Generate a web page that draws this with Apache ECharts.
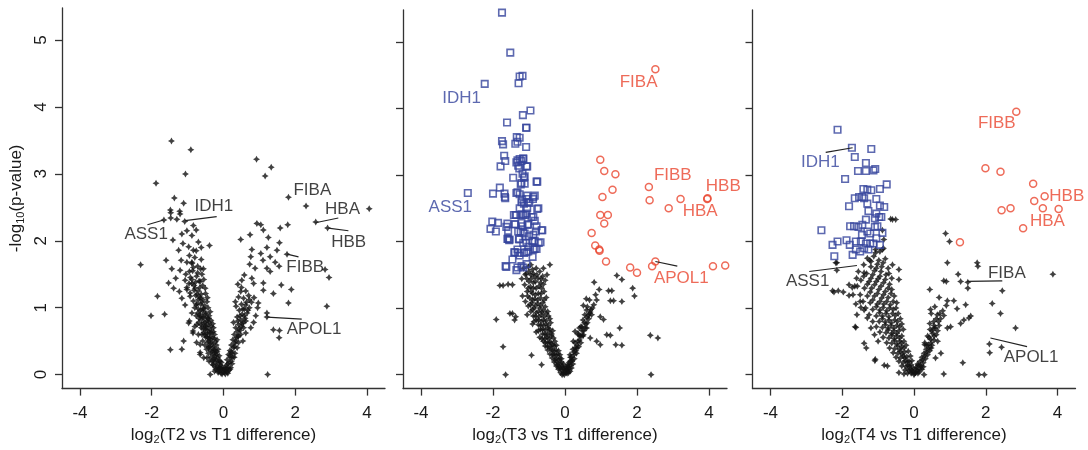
<!DOCTYPE html>
<html><head><meta charset="utf-8">
<script src="https://cdn.jsdelivr.net/npm/echarts@6/dist/echarts.min.js"></script>
<style>html,body{margin:0;padding:0;background:#fff}#c{width:1088px;height:450px}</style>
</head><body><div id="c"></div>
<script>
const xTicks = [-4, -2, 0, 2, 4];
const yTicks = [0, 1, 2, 3, 4, 5];
const xTitles = ['T2 vs T1 difference', 'T3 vs T1 difference', 'T4 vs T1 difference'];

// Panel 1 (T2 vs T1): all proteins black
const p1Black = [
[-1.45,3.49],[-0.91,3.36],[-1.06,3.0],[-1.88,2.86],[-1.37,2.64],[-1.11,2.56],[-1.48,2.46],[-1.22,2.44],[-1.47,2.42],[-1.21,2.40],[-1.47,2.34],[-1.30,2.32],[-1.66,2.31],[-1.08,2.29],[-0.84,2.23],[-0.76,2.16],[-1.02,2.15],[-1.16,2.10],[-0.88,2.08],[-1.41,2.01],[-0.70,1.98],[-0.39,1.93],[-1.13,1.96],[-0.97,1.91],[-1.25,1.86],[-0.84,1.86],[-2.31,1.64],[-1.60,1.71],[-1.18,1.71],[-1.02,1.68],[-0.88,1.66],[-0.62,1.72],[-1.44,1.58],[-1.21,1.56],[-0.95,1.54],[-0.56,1.58],[-1.33,1.44],[-1.53,1.37],[-1.07,1.41],[-0.88,1.36],[-0.65,1.39],[-1.39,1.29],[-1.23,1.24],[-1.02,1.27],[-0.79,1.29],[-0.51,1.29],[-1.84,1.17],[-1.16,1.14],[-0.93,1.17],[-0.65,1.14],[-0.46,1.09],[-1.07,1.04],[-0.76,1.04],[-0.56,0.99],[-0.37,0.94],[-2.02,0.88],[-1.64,0.90],[-0.88,0.92],[-0.65,0.87],[-0.42,0.84],[-0.97,0.77],[-0.74,0.75],[-0.51,0.72],[-0.28,0.70],[-0.85,0.62],[-0.60,0.60],[-0.37,0.57],[-0.18,0.52],[-1.11,0.50],[-1.48,0.37],[-1.16,0.38],[-0.65,0.45],[-0.42,0.40],[-0.65,0.33],[-0.46,0.25],[-0.23,0.33],[-0.09,0.20],[-0.30,0.15],[-0.37,0.0],
[-0.95,1.78],[-0.80,1.75],[-0.72,1.62],[-0.86,1.55],[-0.60,1.50],[-0.75,1.47],[-0.92,1.45],[-0.68,1.40],[-0.82,1.33],[-0.58,1.33],[-0.70,1.25],[-0.93,1.22],[-0.62,1.20],[-0.50,1.21],[-0.77,1.18],[-0.84,1.10],[-0.70,1.12],[-0.57,1.12],[-0.45,1.15],[-0.63,1.05],[-0.52,1.03],[-0.80,1.00],[-0.70,0.98],[-0.43,1.00],[-0.58,0.95],[-0.49,0.92],[-0.66,0.90],[-0.76,0.88],[-0.55,0.86],[-0.40,0.88],[-0.61,0.82],[-0.47,0.80],[-0.35,0.81],[-0.69,0.78],[-0.56,0.76],[-0.42,0.74],[-0.30,0.76],[-0.80,0.72],[-0.62,0.70],[-0.50,0.68],[-0.38,0.67],[-0.55,0.63],[-0.45,0.61],[-0.33,0.63],[-0.70,0.60],[-0.25,0.60],[-0.50,0.56],[-0.40,0.54],[-0.30,0.55],[-0.58,0.50],[-0.44,0.48],[-0.35,0.47],[-0.22,0.49],[-0.52,0.44],[-0.40,0.42],[-0.28,0.41],[-0.47,0.38],[-0.35,0.36],[-0.24,0.36],[-0.15,0.38],[-0.42,0.32],[-0.30,0.30],[-0.20,0.30],[-0.36,0.26],[-0.26,0.24],[-0.16,0.25],[-0.32,0.20],[-0.22,0.18],[-0.12,0.20],[-0.28,0.14],[-0.18,0.12],[-0.08,0.14],[-0.22,0.08],[-0.12,0.07],[-0.05,0.08],[-0.15,0.03],[-0.07,0.02],[-0.02,0.04],[-0.10,0.11],[-0.25,0.05],[-0.65,0.30],[-0.55,0.25],[-0.75,0.48],[-0.85,0.65],[-0.95,0.80],[-0.66,1.30],[-0.88,1.68],[-0.55,1.42],[-1.02,1.30],[-0.40,0.20],
[-0.82,1.26],[-0.74,1.20],[-0.66,1.16],[-0.60,1.08],[-0.74,1.06],[-0.55,0.98],[-0.64,0.96],[-0.72,0.92],[-0.50,0.90],[-0.58,0.86],[-0.45,0.84],[-0.68,0.84],[-0.52,0.78],[-0.62,0.74],[-0.40,0.78],[-0.48,0.72],[-0.56,0.68],[-0.34,0.72],[-0.44,0.66],[-0.52,0.60],[-0.38,0.62],[-0.28,0.64],[-0.46,0.56],[-0.36,0.52],[-0.26,0.54],[-0.42,0.50],[-0.30,0.46],[-0.20,0.44],[-0.38,0.42],[-0.26,0.38],[-0.32,0.34],[-0.18,0.34],[-0.24,0.28],[-0.12,0.28],[-0.20,0.22],[-0.28,0.22],[-0.14,0.16],[-0.06,0.18],[-0.20,0.10],[-0.10,0.09],[-0.03,0.11],[-0.14,0.05],[-0.04,0.01],[-0.88,1.42],[-0.78,1.38],[-0.96,1.36],[-0.72,1.52],[-0.84,1.60],[-1.05,1.50],[-0.64,1.58],[-0.76,1.85],[-0.62,1.90],
[0.92,3.22],[1.33,3.10],[1.16,2.97],[1.81,2.65],[2.30,2.52],[4.06,2.48],[2.57,2.28],[2.90,2.19],[1.79,2.24],[1.58,2.19],[0.93,2.26],[1.04,2.24],[1.11,2.16],[1.25,2.05],[1.56,1.97],[0.74,2.09],[0.48,2.02],[0.79,1.87],[1.04,1.81],[1.21,1.90],[1.49,1.86],[0.76,1.76],[1.10,1.71],[1.30,1.76],[1.44,1.68],[0.73,1.65],[0.88,1.59],[1.21,1.59],[1.30,1.54],[1.55,1.62],[1.77,1.80],[2.83,1.57],[2.94,1.45],[0.58,1.49],[0.51,1.41],[0.79,1.44],[0.84,1.36],[1.11,1.37],[1.61,1.34],[1.89,1.27],[1.39,1.21],[1.11,1.26],[0.48,1.24],[1.81,1.07],[2.88,1.02],[0.33,1.09],[0.97,1.07],[1.21,0.92],[1.56,0.66],[1.39,0.67],[1.55,0.55],[1.21,0.86],[1.23,0.0],
[0.02,0.03],[0.06,0.06],[0.10,0.04],[0.04,0.10],[0.08,0.14],[0.13,0.10],[0.16,0.18],[0.10,0.22],[0.20,0.25],[0.14,0.30],[0.24,0.32],[0.18,0.36],[0.28,0.40],[0.22,0.44],[0.32,0.47],[0.26,0.52],[0.36,0.55],[0.30,0.60],[0.42,0.58],[0.38,0.64],[0.46,0.66],[0.34,0.70],[0.50,0.72],[0.42,0.75],[0.55,0.78],[0.28,0.78],[0.48,0.82],[0.60,0.84],[0.38,0.86],[0.52,0.90],[0.66,0.92],[0.44,0.96],[0.58,0.98],[0.72,1.00],[0.35,1.02],[0.50,1.05],[0.64,1.08],[0.78,1.08],[0.56,1.14],[0.42,1.16],[0.70,1.18],[0.84,0.78],[0.90,0.88],[0.76,0.70],[0.62,0.62],[0.54,0.50],[0.18,0.08],[0.24,0.16],[0.30,0.26],[0.85,1.15],[0.95,1.00],[0.62,1.25],[0.50,1.30],[0.40,1.35],
[0.01,0.07],[0.05,0.01],[0.12,0.02],[0.08,0.09],[0.15,0.06],[0.20,0.10],[0.12,0.16],[0.22,0.20],[0.18,0.28],[0.26,0.26],[0.32,0.32],[0.22,0.34],[0.30,0.42],[0.38,0.40],[0.34,0.50],[0.42,0.48],[0.40,0.56],[0.48,0.60],[0.44,0.68],[0.56,0.70],[0.52,0.76],[0.40,0.80],[0.62,0.80],[0.58,0.88],[0.46,0.88],[0.68,0.96],[0.54,0.98],[0.62,1.04],[0.72,1.12]
];

// Panel 2 (T3 vs T1)
const p2Black = [
[-0.42,1.65],[-1.58,1.36],[-1.46,1.35],[-1.91,0.83],[-1.46,0.92],[-1.40,0.82],[-1.53,0.92],[-1.37,0.87],[-1.72,0.42],[-0.93,0.29],[-1.65,0.0],[-0.65,0.15],[-1.81,1.34],[-1.72,1.34],
[-1.15,1.60],[-1.02,1.62],[-0.90,1.58],[-0.80,1.60],[-0.70,1.55],[-1.08,1.52],[-0.95,1.50],[-0.85,1.47],[-0.75,1.45],[-0.62,1.48],[-1.20,1.44],[-1.00,1.40],[-0.88,1.38],[-0.68,1.38],[-0.55,1.42],
[-1.12,1.35],[-0.96,1.32],[-0.80,1.30],[-0.65,1.30],[-1.05,1.25],[-0.90,1.22],[-0.74,1.22],[-0.58,1.25],[-1.18,1.18],[-0.98,1.15],[-0.84,1.14],[-0.68,1.15],[-0.52,1.16],[-1.10,1.10],[-0.92,1.08],[-0.76,1.07],[-0.62,1.08],
[-1.02,1.03],[-0.86,1.00],[-0.70,1.00],[-0.55,1.02],[-0.95,0.95],[-0.80,0.93],[-0.64,0.94],[-0.48,0.95],[-1.05,0.90],[-0.88,0.88],[-0.72,0.87],[-0.58,0.87],[-0.80,0.82],[-0.66,0.80],[-0.52,0.81],[-0.42,0.84],
[-0.90,0.76],[-0.74,0.75],[-0.60,0.74],[-0.47,0.74],[-0.68,0.68],[-0.55,0.67],[-0.42,0.68],[-0.80,0.64],[-0.62,0.61],[-0.50,0.60],[-0.37,0.61],[-0.70,0.56],[-0.56,0.54],[-0.44,0.54],[-0.32,0.55],[-0.60,0.50],[-0.48,0.48],[-0.38,0.47],
[-0.55,0.43],[-0.42,0.42],[-0.30,0.43],[-0.48,0.37],[-0.36,0.36],[-0.25,0.37],[-0.42,0.31],[-0.30,0.30],[-0.20,0.31],[-0.36,0.25],[-0.25,0.24],[-0.15,0.25],[-0.30,0.19],[-0.20,0.18],[-0.10,0.19],
[-0.24,0.13],[-0.15,0.12],[-0.07,0.13],[-0.18,0.08],[-0.10,0.07],[-0.03,0.08],[-0.12,0.03],[-0.05,0.02],[0.0,0.04],[-0.08,0.0],
[-1.00,1.55],[-0.88,1.52],[-0.78,1.50],[-0.66,1.44],[-1.06,1.44],[-0.94,1.44],[-0.82,1.40],[-0.72,1.33],[-0.88,1.30],[-1.02,1.30],[-0.60,1.36],[-0.94,1.25],[-0.82,1.20],[-0.66,1.22],[-1.04,1.18],[-0.76,1.12],[-0.90,1.12],[-0.58,1.12],[-0.96,1.05],[-0.82,1.04],[-0.68,1.04],[-0.60,0.97],[-0.74,0.95],[-0.90,0.98],[-0.52,0.92],[-0.66,0.90],[-0.82,0.88],[-0.46,0.88],[-0.60,0.82],[-0.74,0.82],[-0.86,0.80],[-0.54,0.76],[-0.68,0.74],[-0.40,0.78],[-0.48,0.70],[-0.62,0.68],[-0.74,0.66],[-0.34,0.66],[-0.44,0.64],[-0.56,0.61],[-0.38,0.58],[-0.50,0.56],[-0.64,0.54],[-0.28,0.50],[-0.42,0.49],[-0.54,0.48],[-0.34,0.45],[-0.48,0.42],[-0.24,0.44],[-0.38,0.39],[-0.30,0.35],[-0.18,0.36],[-0.34,0.30],[-0.24,0.29],[-0.14,0.30],[-0.28,0.22],[-0.18,0.22],[-0.10,0.24],[-0.22,0.15],[-0.12,0.16],[-0.04,0.16],[-0.16,0.10],[-0.06,0.10],[0.02,0.11],[-0.02,0.0],[-1.10,1.50],[-0.50,1.50],[-0.60,1.60],[-0.95,1.65],
[1.44,1.49],[1.58,1.43],[0.81,1.39],[1.88,1.30],[1.93,1.18],[1.21,1.26],[1.30,1.26],[1.26,1.11],[1.35,1.11],[1.58,1.10],[0.59,1.14],[0.88,1.12],[0.51,1.04],[0.60,0.97],[0.70,0.94],[0.65,0.89],[0.74,0.90],[0.98,0.87],[1.07,0.83],[0.40,0.70],[0.47,0.72],[0.60,0.70],[0.28,0.65],[0.37,0.60],[0.51,0.60],[0.70,0.55],[1.16,0.60],[1.26,0.59],[1.52,0.70],[0.88,0.50],[0.98,0.45],[1.41,0.45],[1.58,0.44],[0.23,0.50],[0.33,0.40],[2.37,0.59],[2.58,0.55],[2.39,0.0],[0.14,0.30],[0.19,0.20],[0.09,0.15],[0.05,0.08],
[0.03,0.03],[0.08,0.05],[0.12,0.09],[0.06,0.12],[0.16,0.14],[0.11,0.18],[0.20,0.22],[0.15,0.26],[0.25,0.30],[0.30,0.36],[0.22,0.38],[0.34,0.44],[0.28,0.48],[0.40,0.52],[0.45,0.58],[0.36,0.62],[0.52,0.66],[0.44,0.72],[0.58,0.76],[0.50,0.82],[0.66,0.84],[0.55,0.90],[0.72,0.98],[0.62,1.02],[0.80,1.05],[0.68,1.12],[0.85,1.20],[0.95,1.28],
[0.06,0.02],[0.04,0.07],[0.10,0.03],[0.14,0.05],[0.10,0.12],[0.18,0.10],[0.14,0.20],[0.22,0.16],[0.18,0.26],[0.26,0.24],[0.24,0.34],[0.32,0.32],[0.28,0.40],[0.38,0.42],[0.36,0.50],[0.44,0.48],[0.42,0.58],[0.50,0.58],[0.48,0.66],[0.56,0.70],[0.62,0.78],[0.54,0.78],[0.60,0.86],[0.68,0.92],[0.76,1.00]
];
const p2Down = [
[-1.75,5.44],[-1.52,4.84],[-1.18,4.49],[-1.26,4.48],[-1.29,4.38],[-2.23,4.37],[-0.96,3.97],[-1.17,3.90],[-1.61,3.79],[-1.08,3.71],[-1.07,3.71],[-1.75,3.51],[-1.72,3.46],[-1.34,3.57],[-1.26,3.56],[-1.32,3.50],[-1.38,3.47],[-1.08,3.42],[-1.69,3.29],[-1.16,3.24],[-1.21,3.21],[-1.35,3.19],[-1.66,3.21],[-1.79,3.13],[-1.05,3.13],[-1.27,3.10],[-1.18,3.02],[-1.44,2.96],[-1.14,2.96],[-0.77,2.90],[-1.21,2.88],[-1.81,2.81],[-2.70,2.73],[-2.00,2.72],[-1.35,2.73],[-1.67,2.67],[-0.88,2.67],[-0.84,2.69],[-1.19,2.63],[-1.07,2.64],[-0.99,2.58],[-0.74,2.50],[-1.26,2.50],[-1.05,2.50],[-1.42,2.40],[-1.37,2.40],[-1.16,2.40],[-1.07,2.42],[-0.88,2.37],[-2.02,2.30],[-1.86,2.28],[-1.60,2.27],[-1.38,2.26],[-1.18,2.23],[-1.02,2.26],[-0.79,2.23],[-0.63,2.17],[-2.07,2.19],[-1.92,2.15],[-1.63,2.22],[-1.23,2.15],[-1.12,2.12],[-0.88,2.10],[-1.60,2.04],[-1.55,2.02],[-1.27,2.03],[-1.16,1.98],[-0.91,2.01],[-0.68,1.99],[-1.02,1.92],[-0.84,1.89],[-1.39,1.84],[-1.26,1.79],[-1.07,1.84],[-0.90,1.77],[-1.46,1.73],[-1.65,1.63],[-1.35,1.57],[-1.16,1.61],
[-1.32,3.22],[-1.26,3.24],[-1.16,3.25],[-1.30,3.14],[-1.07,3.13],[-1.12,2.98],[-1.23,2.86],[-1.12,2.87],[-0.79,2.90],[-1.68,2.72],[-1.66,2.65],[-1.32,2.74],[-1.26,2.71],[-0.89,2.64],[-1.05,2.69],[-1.02,2.59],[-1.21,2.59],[-1.14,2.57],[-0.77,2.49],[-1.35,2.40],[-1.21,2.41],[-1.10,2.40],[-0.93,2.37],[-0.84,2.31],[-1.40,2.26],[-1.21,2.28],[-1.04,2.25],[-1.58,2.16],[-1.30,2.15],[-1.16,2.14],[-0.81,2.15],[-0.65,2.17],[-1.00,2.08],[-1.58,2.04],[-1.54,2.03],[-1.28,2.04],[-1.07,1.98],[-0.84,2.01],[-0.73,1.98],[-1.32,1.88],[-0.88,1.88],[-0.79,1.89],[-1.41,1.84],[-1.30,1.83],[-1.14,1.83],[-1.02,1.85],[-1.63,1.62],[-1.32,1.61],[-1.21,1.63],[-1.07,1.66]
];
const p2Up = [
[2.51,4.59],[0.98,3.23],[1.09,3.06],[1.40,3.01],[1.32,2.78],[1.04,2.67],[2.33,2.82],[2.35,2.62],[3.21,2.64],[3.95,2.64],[3.96,2.65],[2.88,2.50],[0.98,2.40],[1.19,2.40],[1.09,2.27],[0.74,2.13],[0.84,1.94],[0.95,1.88],[0.96,1.86],[1.14,1.70],[1.81,1.61],[2.00,1.53],[2.51,1.70],[2.42,1.63],[4.11,1.63],[4.45,1.64]
];

// Panel 3 (T4 vs T1)
const p3Black = [
[0.88,2.12],[0.99,2.00],[3.87,1.51],[1.76,1.68],[1.78,1.63],[0.93,1.68],[1.23,1.51],[1.30,1.40],[0.83,1.41],[0.90,1.40],[1.50,1.39],[1.50,1.30],[2.46,1.26],[0.44,1.28],[0.70,1.16],[0.93,1.11],[1.11,1.11],[1.20,0.99],[1.44,1.05],[2.41,0.92],[2.18,1.07],[0.46,0.98],[0.83,0.89],[1.53,0.85],[1.58,0.88],[1.39,0.82],[1.30,0.77],[1.02,0.72],[0.93,0.70],[2.83,0.70],[0.44,0.77],[0.56,0.70],[2.10,0.46],[2.11,0.33],[2.44,0.41],[1.36,0.18],[0.83,0.01],[1.81,0.0],[1.96,0.0],[0.28,0.0],[0.30,0.45],[0.48,0.40],[0.66,0.50],[0.75,0.32],[0.60,0.25],
[-0.60,2.33],[-0.51,2.33],[-0.88,2.17],[-0.85,1.90],[-2.15,1.68],[-2.15,1.57],[-2.27,1.26],[-2.11,1.26],[-1.81,1.35],[-1.65,1.33],[-1.81,1.19],[-1.59,0.90],[-1.62,0.71],[-1.33,0.40],[-1.08,0.23],[-0.83,0.14],[-0.28,0.01],[-0.65,2.34],[-2.23,1.24],[-1.97,1.24],[-1.72,1.31],[-1.39,1.53],[-1.23,1.72],[-1.07,1.83],[-0.95,1.85],[-0.88,1.88],[-0.42,1.58],[-0.42,1.43],[-1.62,1.06],[-1.48,1.01],[-1.39,0.97],[-1.64,0.72],[-1.39,0.47],[-1.09,0.21],[-0.74,0.13],[-0.42,0.03],[-0.84,2.03],[-1.07,1.88],[-2.18,1.68],
[-1.30,1.75],[-1.12,1.78],[-0.98,1.72],[-0.80,1.74],[-1.40,1.65],[-1.20,1.62],[-1.05,1.60],[-0.90,1.62],[-0.72,1.60],[-0.60,1.65],[-1.55,1.55],[-1.32,1.52],[-1.15,1.50],[-0.95,1.48],[-0.78,1.50],[-0.62,1.45],[-1.48,1.42],[-1.25,1.40],[-1.05,1.40],[-0.85,1.38],[-0.68,1.36],
[-1.58,1.33],[-1.38,1.30],[-1.18,1.30],[-0.98,1.28],[-0.80,1.25],[-0.62,1.28],[-1.50,1.20],[-1.30,1.18],[-1.10,1.18],[-0.90,1.15],[-0.72,1.16],[-0.55,1.18],[-1.42,1.10],[-1.22,1.08],[-1.02,1.06],[-0.84,1.06],[-0.66,1.05],[-0.48,1.08],[-1.35,1.00],[-1.15,0.98],[-0.95,0.97],[-0.76,0.96],[-0.58,0.98],
[-1.25,0.90],[-1.05,0.88],[-0.88,0.88],[-0.70,0.87],[-0.52,0.89],[-1.15,0.80],[-0.97,0.80],[-0.80,0.79],[-0.63,0.78],[-0.46,0.80],[-1.05,0.72],[-0.88,0.71],[-0.72,0.70],[-0.56,0.70],[-0.40,0.72],[-0.95,0.64],[-0.78,0.63],[-0.62,0.62],[-0.48,0.62],
[-0.86,0.56],[-0.70,0.55],[-0.55,0.54],[-0.40,0.55],[-0.76,0.48],[-0.62,0.47],[-0.48,0.46],[-0.35,0.47],[-0.68,0.40],[-0.54,0.39],[-0.40,0.38],[-0.28,0.40],[-0.58,0.33],[-0.45,0.32],[-0.33,0.31],
[-0.50,0.26],[-0.38,0.25],[-0.26,0.25],[-0.42,0.20],[-0.30,0.18],[-0.18,0.19],[-0.34,0.13],[-0.22,0.12],[-0.12,0.13],[-0.25,0.07],[-0.15,0.06],[-0.06,0.07],[-0.18,0.02],[-0.08,0.02],[-0.02,0.04],[0.0,0.0],
[-1.20,1.70],[-1.02,1.66],[-0.86,1.68],[-1.10,1.56],[-0.92,1.55],[-0.70,1.52],[-1.40,1.48],[-1.20,1.45],[-1.00,1.44],[-0.80,1.43],[-1.30,1.36],[-1.10,1.35],[-0.92,1.33],[-0.72,1.30],[-1.22,1.24],[-1.02,1.22],[-0.85,1.20],[-0.64,1.22],[-1.15,1.12],[-0.95,1.10],[-0.76,1.10],[-0.58,1.10],[-1.05,1.02],[-0.86,1.01],[-0.68,1.00],[-0.50,1.00],[-0.96,0.93],[-0.78,0.92],[-0.60,0.92],[-0.44,0.92],[-0.88,0.84],[-0.70,0.82],[-0.54,0.82],[-0.38,0.84],[-0.80,0.75],[-0.64,0.74],[-0.48,0.74],[-0.34,0.76],[-0.72,0.67],[-0.56,0.66],[-0.42,0.66],[-0.30,0.68],[-0.62,0.59],[-0.48,0.58],[-0.34,0.58],[-0.54,0.51],[-0.40,0.50],[-0.28,0.50],[-0.46,0.43],[-0.34,0.42],[-0.22,0.44],[-0.38,0.35],[-0.26,0.34],[-0.16,0.35],[-0.30,0.28],[-0.20,0.27],[-0.10,0.28],[-0.24,0.21],[-0.14,0.20],[-0.06,0.21],[-0.18,0.14],[-0.08,0.15],[-0.12,0.09],[-0.02,0.10],[-0.06,0.04],[-1.60,1.45],[-1.70,1.20],[-1.50,1.10],[-1.30,0.85],[-1.20,0.70],[-1.10,0.60],[-1.00,0.50],
[0.04,0.03],[0.09,0.06],[0.14,0.04],[0.06,0.11],[0.12,0.14],[0.20,0.12],[0.17,0.20],[0.26,0.18],[0.22,0.26],[0.32,0.24],[0.28,0.32],[0.38,0.30],[0.34,0.38],[0.44,0.36],[0.40,0.45],[0.50,0.44],[0.30,0.48],[0.46,0.53],[0.56,0.52],[0.38,0.58],[0.52,0.62],[0.62,0.60],[0.45,0.68],[0.60,0.70],[0.70,0.74],[0.55,0.80],[0.74,0.84],[0.65,0.90],[0.48,0.92],[0.80,0.96],[0.58,1.02],[0.90,1.04],
[0.02,0.02],[0.06,0.08],[0.11,0.02],[0.16,0.08],[0.10,0.16],[0.22,0.08],[0.18,0.14],[0.26,0.12],[0.24,0.22],[0.30,0.28],[0.36,0.34],[0.42,0.40],[0.36,0.44],[0.48,0.48],[0.42,0.56],[0.56,0.58],[0.50,0.66],[0.66,0.66],[0.56,0.74],[0.68,0.80],[0.62,0.84],[0.72,0.92]
];
const p3Down = [
[-2.13,3.68],[-1.73,3.41],[-1.19,3.39],[-1.65,3.27],[-1.34,3.18],[-1.56,3.06],[-1.34,3.06],[-1.13,3.07],[-1.08,3.09],[-1.92,2.94],[-0.76,2.86],[-1.41,2.79],[-1.30,2.78],[-1.19,2.77],[-0.95,2.79],[-1.53,2.67],[-1.44,2.67],[-1.65,2.65],[-1.39,2.65],[-1.05,2.64],[-1.30,2.57],[-0.95,2.54],[-0.83,2.52],[-1.81,2.53],[-1.27,2.46],[-1.05,2.42],[-0.97,2.37],[-0.91,2.37],[-1.09,2.35],[-1.34,2.33],[-1.44,2.25],[-1.78,2.23],[-1.67,2.23],[-1.55,2.22],[-1.09,2.22],[-1.02,2.23],[-2.58,2.17],[-1.30,2.15],[-1.22,2.12],[-1.45,2.10],[-0.88,2.13],[-1.88,2.02],[-1.79,1.95],[-1.62,2.0],[-1.48,2.0],[-2.13,2.0],[-2.27,1.95],[-1.34,1.97],[-1.22,1.97],[-1.13,1.97],[-1.39,1.90],[-1.27,1.88],[-1.62,1.88],[-1.50,1.85],[-1.71,1.80],[-2.22,1.78],[-1.05,2.05],[-0.95,1.95]
];
const p3Up = [
[2.85,3.95],[1.99,3.10],[2.41,3.05],[3.32,2.87],[3.64,2.68],[3.35,2.61],[2.44,2.47],[2.69,2.50],[3.59,2.50],[4.03,2.49],[3.04,2.20],[1.28,1.99]
];

// Gene labels: [text, x, y] and leader lines [[x1,y1],[x2,y2]]
const labels1Black = [['FIBA',1.95,2.76],['HBA',2.83,2.47],['HBB',3.0,1.98],['FIBB',1.75,1.61],['APOL1',1.76,0.67],['IDH1',-0.81,2.51],['ASS1',-2.76,2.09]];
const leaders1 = [[[3.20,2.34],[2.56,2.27]],[[3.48,2.15],[2.92,2.19]],[[2.09,1.76],[1.77,1.80]],[[2.18,0.83],[1.21,0.86]],[[-0.19,2.36],[-1.07,2.30]],[[-2.12,2.24],[-1.67,2.31]]];
const labels2Blue = [['IDH1',-3.41,4.16],['ASS1',-3.79,2.51]];
const labels2Red = [['FIBA',1.52,4.39],['FIBB',2.47,2.99],['HBB',3.91,2.83],['HBA',3.27,2.45],['APOL1',2.47,1.45]];
const leaders2 = [[[2.51,1.70],[3.12,1.63]]];
const labels3Blue = [['IDH1',-3.15,3.19]];
const labels3Red = [['FIBB',1.78,3.78],['HBB',3.77,2.68],['HBA',3.23,2.31]];
const labels3Black = [['ASS1',-3.57,1.40],['FIBA',2.06,1.52],['APOL1',2.50,0.26]];
const leaders3 = [[[-2.46,3.34],[-1.71,3.41]],[[-2.92,1.55],[-1.59,1.64]],[[1.48,1.40],[2.46,1.41]],[[2.13,0.55],[3.15,0.42]]];

const FONT = '"Liberation Sans", Arial, Helvetica, sans-serif';
const AX = '#333333', BLUE = '#34449c', RED = '#ea4630', BLK = '#111111';
const STAR = 'path://M0,-10L3.6,-3.6L10,0L3.6,3.6L0,10L-3.6,3.6L-10,0L-3.6,-3.6Z';

const grids = [
  {left: 62, top: 8, width: 323, height: 385},
  {left: 403, top: 10, width: 324, height: 385},
  {left: 752.5, top: 10, width: 323, height: 384}
];
const xAxes = [], yAxes = [], series = [];
grids.forEach((g, i) => {
  xAxes.push({
    type: 'value', gridIndex: i, min: -4.5, max: 4.5,
    axisLine: {show: true, onZero: false, lineStyle: {color: AX, width: 1.3}},
    axisTick: {show: true, length: 7, customValues: xTicks, lineStyle: {color: AX, width: 1.3}},
    axisLabel: {customValues: xTicks, fontSize: 17, color: '#1a1a1a', fontFamily: FONT, margin: 16},
    splitLine: {show: false},
    name: 'log{s|2}(' + xTitles[i] + ')', nameLocation: 'middle', nameGap: 35,
    nameTextStyle: {fontSize: 17, color: '#1a1a1a', fontFamily: FONT,
      rich: {s: {fontSize: 11, fontFamily: FONT, color: '#1a1a1a', padding: [9, 0, 0, 0]}}}
  });
  yAxes.push({
    type: 'value', gridIndex: i, min: -0.21, max: 5.48,
    axisLine: {show: true, onZero: false, lineStyle: {color: AX, width: 1.3}},
    axisTick: {show: true, length: 7, customValues: yTicks, lineStyle: {color: AX, width: 1.3}},
    axisLabel: {show: i === 0, customValues: yTicks, rotate: 90, fontSize: 17, color: '#1a1a1a', fontFamily: FONT, margin: 12},
    splitLine: {show: false},
    name: i === 0 ? '-log{s|10}(p-value)' : '', nameLocation: 'middle', nameGap: 36,
    nameTextStyle: {fontSize: 17, color: '#1a1a1a', fontFamily: FONT,
      rich: {s: {fontSize: 11, fontFamily: FONT, color: '#1a1a1a', padding: [9, 0, 0, 0]}}}
  });
});

function pts(i, data, kind) {
  const base = {type: 'scatter', xAxisIndex: i, yAxisIndex: i, data: data, silent: true, animation: false};
  if (kind === 'black') return Object.assign(base, {symbol: STAR, symbolSize: 7, itemStyle: {color: BLK}, z: 2});
  if (kind === 'blue') return Object.assign(base, {symbol: 'rect', symbolSize: 6.5, itemStyle: {color: 'rgba(255,255,255,0)', borderColor: BLUE, borderWidth: 1.6}, z: 3});
  return Object.assign(base, {symbol: 'circle', symbolSize: 7, itemStyle: {color: 'rgba(255,255,255,0)', borderColor: RED, borderWidth: 1.5}, z: 3});
}
function labs(i, arr, color) {
  return {type: 'scatter', xAxisIndex: i, yAxisIndex: i, silent: true, animation: false, symbolSize: 0, z: 5,
    data: arr.map(a => ({value: [a[1], a[2]], name: a[0]})),
    label: {show: true, position: 'right', distance: 0, formatter: '{b}', fontSize: 17, fontFamily: FONT, color: color}};
}
function leads(i, arr) {
  return {type: 'lines', coordinateSystem: 'cartesian2d', xAxisIndex: i, yAxisIndex: i, silent: true, animation: false, z: 4,
    data: arr.map(a => ({coords: a})), lineStyle: {color: '#222', width: 1.2, opacity: 1}};
}

series.push(pts(0, p1Black, 'black'), labs(0, labels1Black, BLK), leads(0, leaders1));
series.push(pts(1, p2Black, 'black'), pts(1, p2Down, 'blue'), pts(1, p2Up, 'red'),
  labs(1, labels2Blue, BLUE), labs(1, labels2Red, RED), leads(1, leaders2));
series.push(pts(2, p3Black, 'black'), pts(2, p3Down, 'blue'), pts(2, p3Up, 'red'),
  labs(2, labels3Blue, BLUE), labs(2, labels3Red, RED), labs(2, labels3Black, BLK), leads(2, leaders3));

const chart = echarts.init(document.getElementById('c'), null, {renderer: 'canvas'});
chart.setOption({backgroundColor: '#fff', animation: false, grid: grids, xAxis: xAxes, yAxis: yAxes, series: series});
</script></body></html>
